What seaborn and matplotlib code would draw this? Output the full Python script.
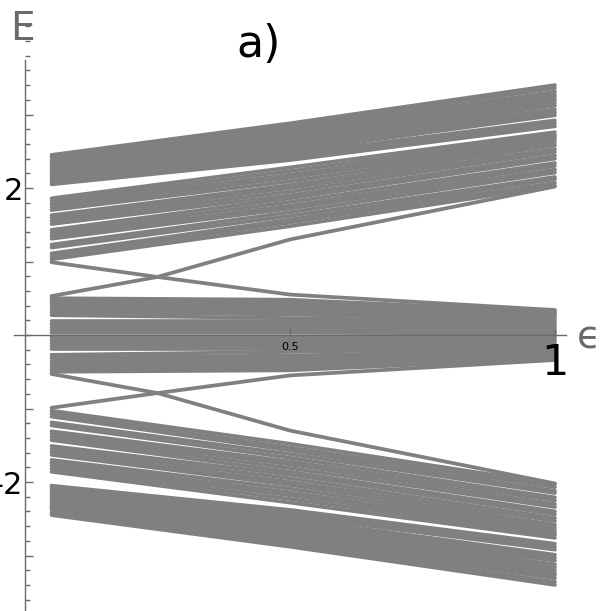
import matplotlib
matplotlib.use("Agg")
import matplotlib.pyplot as plt
import seaborn as sns
import pandas as pd
from matplotlib.ticker import MultipleLocator

# eigenvalue curves E(eps), read at eps = 0.05, 0.5, 1.0 (upper half; lower half is the mirror)
eps_pts = [0.05, 0.5, 1.0]

# top band
A_start = [2.05, 2.08, 2.11, 2.14, 2.17, 2.20, 2.23, 2.26, 2.29, 2.32, 2.35, 2.38, 2.42, 2.45]
A_mid = [2.38, 2.42, 2.46, 2.50, 2.54, 2.58, 2.61, 2.65, 2.69, 2.72, 2.76, 2.80, 2.84, 2.88]
A_end = [2.84, 2.88, 2.92, 2.99, 3.03, 3.07, 3.12, 3.16, 3.20, 3.24, 3.27, 3.31, 3.36, 3.40]

# second band
B_start = [1.03, 1.07, 1.11, 1.19, 1.23, 1.31, 1.35, 1.39, 1.43, 1.51, 1.55, 1.59, 1.63,
           1.70, 1.74, 1.78, 1.82, 1.86]
B_mid = [1.48, 1.53, 1.57, 1.62, 1.67, 1.72, 1.76, 1.81, 1.86, 1.90, 1.95, 2.00, 2.04,
         2.09, 2.14, 2.18, 2.23, 2.28]
B_end = [2.03, 2.07, 2.12, 2.15, 2.21, 2.25, 2.30, 2.34, 2.40, 2.44, 2.49, 2.53, 2.58,
         2.62, 2.66, 2.69, 2.72, 2.76]

# inner band near zero
C_start = [0.03, 0.07, 0.11, 0.15, 0.19, 0.27, 0.31, 0.35, 0.39, 0.43, 0.47, 0.50]
C_mid = [0.03, 0.07, 0.11, 0.15, 0.19, 0.23, 0.28, 0.32, 0.36, 0.40, 0.44, 0.48]
C_end = [0.02, 0.05, 0.08, 0.11, 0.14, 0.17, 0.20, 0.23, 0.26, 0.28, 0.30, 0.32]

# the two crossing levels, read at four eps values
cross_eps = [0.05, 0.25, 0.5, 1.0]
D_line = [0.99, 0.79, 0.55, 0.34]
U_line = [0.53, 0.79, 1.30, 2.02]

rows = []
uid = 0
curves = [(eps_pts, list(t)) for t in zip(A_start, A_mid, A_end)]
curves += [(eps_pts, list(t)) for t in zip(B_start, B_mid, B_end)]
curves += [(eps_pts, list(t)) for t in zip(C_start, C_mid, C_end)]
curves += [(cross_eps, D_line), (cross_eps, U_line)]
for xs, c in curves:
    for sign in (1, -1):
        for e, v in zip(xs, c):
            rows.append({"eps": e, "E": sign * v, "line": uid})
        uid += 1
df = pd.DataFrame(rows)

sns.set_style("white")
plt.rcParams['font.family'] = ['DejaVu Sans']

fig = plt.figure(figsize=(6.0, 6.11), dpi=100)
ax = fig.add_axes([0, 0, 1, 1])
sns.lineplot(data=df, x="eps", y="E", units="line", estimator=None,
             color="#808080", linewidth=2.7, ax=ax, legend=False)

ax.set_xlim(-0.0472, 1.085)
ax.set_ylim(-3.755, 4.558)
ax.set_xlabel("")
ax.set_ylabel("")
ax.set_axisbelow(False)

axc = "#6a6a6a"
for s in ["top", "right"]:
    ax.spines[s].set_visible(False)
ax.spines["left"].set_position(("data", 0))
ax.spines["bottom"].set_position(("data", 0))
ax.spines["left"].set_bounds(-3.76, 3.74)
ax.spines["bottom"].set_bounds(-0.021, 1.02)
for s in ["left", "bottom"]:
    ax.spines[s].set_color(axc)
    ax.spines[s].set_linewidth(1.0)
    ax.spines[s].set_zorder(5)

ax.set_yticks([-3, -2, -1, 1, 2, 3])
ax.set_yticklabels(["", "-2", "", "", "2", ""])
ax.yaxis.set_minor_locator(MultipleLocator(0.2))
ax.set_xticks([0.5, 1.0])
ax.set_xticklabels(["0.5", "1"])
ax.tick_params(left=True, bottom=True, which="both")
ax.tick_params(axis="y", which="major", direction="in", length=6, width=1, color=axc,
               labelsize=22, pad=1.5, labelcolor="black")
ax.tick_params(axis="y", which="minor", direction="in", length=3.5, width=1, color=axc)
ax.tick_params(axis="x", which="major", direction="in", length=4, width=1, color=axc,
               pad=5, labelcolor="black")
xl = ax.get_xticklabels()
xl[0].set_fontsize(8)
xl[1].set_fontsize(31)

ax.text(-0.004, 4.42, "E", fontsize=28, color=axc, ha="center", va="top")
ax.text(1.064, -0.04, "ϵ", fontsize=28, color=axc, ha="center", va="center")
ax.text(0.44, 3.95, "a)", fontsize=32, color="black", ha="center", va="center")

fig.savefig("out.png", dpi=100)
